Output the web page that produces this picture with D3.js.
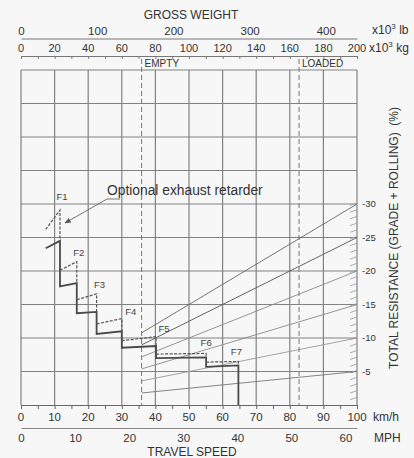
<!DOCTYPE html>
<html>
<meta charset="utf-8" />
<style>
  body { margin: 0; background: #f7f7f7; }
  svg { font-family: "Liberation Sans", Arial, sans-serif; }
</style>
<svg width="414" height="458"></svg>
<script src="https://d3js.org/d3.v7.min.js"></script>
<script>
  // gear ranges (km/h) and retarder curves (% total resistance)
  const gears = ["F1", "F2", "F3", "F4", "F5", "F6", "F7"];
  const shiftSpeeds = [7.35, 11.6, 16.6, 22.5, 30.0, 40.2, 55.1, 64.7];
  const solidStart = [23.4, 17.7, 13.7, 10.6, 8.55, 7.0, 5.7];
  const solidEnd = [24.5, 18.2, 13.9, 11.0, 8.8, 7.1, 5.9];
  const dashStart = [26.2, 20.1, 15.7, 12.1, 9.6, 7.6, 6.4];
  const dashEnd = [29.1, 21.4, 16.6, 12.9, 10.2, 7.7, 6.5];

  const grades = [30, 25, 20, 15, 10, 5];
  const emptyWeight = 71.8; // x10^3 kg
  const loadedWeight = 165.5;

  const kgTicks = d3.range(0, 201, 20);
  const lbTicks = [0, 100, 200, 300, 400];
  const kmhTicks = d3.range(0, 101, 10);
  const mphTicks = [0, 10, 20, 30, 40, 50, 60];
  const resTicks = [5, 10, 15, 20, 25, 30];

  const svg = d3.select("svg");
  const pLeft = 21, pRight = 357, pTop = 70, pBottom = 405;

  const xKmh = d3.scaleLinear().domain([0, 100]).range([pLeft, pRight]);
  const xKg = d3.scaleLinear().domain([0, 200]).range([pLeft, pRight]);
  const yRes = d3.scaleLinear().domain([0, 50]).range([pBottom, pTop]);
  const lbToKg = 0.45359237, mphToKmh = 1.609344;

  const ink = "#333";
  const tickFont = 11.5;

  // grid
  const grid = svg.append("g").attr("stroke", "#828282").attr("stroke-width", 1.2);
  grid.selectAll("line.v").data(kmhTicks).join("line").attr("class", "v")
    .attr("x1", d => xKmh(d)).attr("x2", d => xKmh(d))
    .attr("y1", pTop).attr("y2", pBottom);
  grid.selectAll("line.h").data(d3.range(5, 51, 5)).join("line").attr("class", "h")
    .attr("x1", pLeft).attr("x2", pRight)
    .attr("y1", d => yRes(d)).attr("y2", d => yRes(d));

  // right side hatches
  svg.append("g").attr("stroke", "#9a9a9a").attr("stroke-width", 0.8)
    .selectAll("line").data(d3.range(1, 31)).join("line")
    .attr("x1", pRight - 7).attr("x2", pRight)
    .attr("y1", d => yRes(d) + 1.5).attr("y2", d => yRes(d) - 1);

  // grade lines radiating from origin, drawn from empty weight
  const gradeColors = ["#666", "#555", "#8a8a8a", "#8a8a8a", "#9a9a9a", "#777"];
  svg.append("g").selectAll("line").data(grades).join("line")
    .attr("x1", xKg(emptyWeight)).attr("y1", d => yRes(d * emptyWeight / 200))
    .attr("x2", xKg(200)).attr("y2", d => yRes(d))
    .attr("stroke", (d, i) => gradeColors[i]).attr("stroke-width", 0.9);

  // empty / loaded lines
  svg.append("g").selectAll("line").data([emptyWeight, loadedWeight]).join("line")
    .attr("x1", d => xKg(d)).attr("x2", d => xKg(d))
    .attr("y1", 59).attr("y2", pBottom)
    .attr("stroke", "#777").attr("stroke-width", 1).attr("stroke-dasharray", "5,3");
  svg.append("g").selectAll("text").data([["EMPTY", emptyWeight], ["LOADED", loadedWeight]]).join("text")
    .attr("x", d => xKg(d[1]) + 3).attr("y", 67)
    .attr("font-size", 10).attr("fill", ink).text(d => d[0]);

  // solid retarder curve
  const pts = [[shiftSpeeds[0], solidStart[0]]];
  gears.forEach((g, i) => {
    pts.push([shiftSpeeds[i + 1], solidEnd[i]]);
    pts.push([shiftSpeeds[i + 1], i < gears.length - 1 ? solidStart[i + 1] : 0]);
  });
  const line = d3.line().x(d => xKmh(d[0])).y(d => yRes(d[1]));
  svg.append("path").attr("d", line(pts)).attr("fill", "none")
    .attr("stroke", "#4a4a4a").attr("stroke-width", 1.8);

  // dashed optional exhaust retarder curves
  svg.append("g").selectAll("path").data(gears).join("path")
    .attr("d", (g, i) => line([
      [shiftSpeeds[i], dashStart[i]],
      [shiftSpeeds[i + 1], dashEnd[i]],
      [shiftSpeeds[i + 1], solidEnd[i]]
    ]))
    .attr("fill", "none").attr("stroke", "#555").attr("stroke-width", 1.2)
    .attr("stroke-dasharray", "3,1.5");

  const labelOff = [[2, -10], [2, -6], [3, -6], [9, -4], [8, -5], [0, -7], [-2, -6]];
  svg.append("g").selectAll("text").data(gears).join("text")
    .attr("x", (g, i) => xKmh(shiftSpeeds[i + 1]) + labelOff[i][0])
    .attr("y", (g, i) => yRes(dashEnd[i]) + labelOff[i][1])
    .attr("text-anchor", "middle").attr("font-size", 9.5).attr("fill", "#444")
    .text(d => d);

  // annotation
  svg.append("defs").append("marker").attr("id", "arr")
    .attr("viewBox", "0 0 10 10").attr("refX", 9).attr("refY", 5)
    .attr("markerWidth", 7).attr("markerHeight", 7).attr("orient", "auto")
    .append("path").attr("d", "M0,1L10,5L0,9z").attr("fill", "#555");
  svg.append("polyline").attr("points", "120,199 107,199 65,223")
    .attr("fill", "none").attr("stroke", "#666").attr("stroke-width", 0.9)
    .attr("marker-end", "url(#arr)");
  svg.append("text").attr("x", 107).attr("y", 195).attr("font-size", 13.8)
    .attr("fill", ink).text("Optional exhaust retarder");

  // top axes
  svg.append("text").attr("x", 191).attr("y", 19).attr("text-anchor", "middle")
    .attr("font-size", 12).attr("fill", ink).text("GROSS WEIGHT");

  const lbAxis = d3.axisTop(d3.scaleLinear().domain([0, 200 / lbToKg]).range([pLeft, pRight]))
    .tickValues(lbTicks).tickSize(0).tickPadding(4);
  const gLb = svg.append("g").attr("transform", "translate(0,38.5)").call(lbAxis);
  gLb.select(".domain").attr("stroke", "#777");
  gLb.attr("font-family", null).attr("font-size", null);
  gLb.selectAll("text").attr("font-size", tickFont).attr("fill", ink);

  const kgAxis = d3.axisBottom(xKg).tickValues(d3.range(0, 201, 10)).tickSize(3).tickFormat("");
  const gKg = svg.append("g").attr("transform", "translate(0,56)").call(kgAxis);
  gKg.selectAll("line, path").attr("stroke", "#777");
  svg.append("g").selectAll("text").data(kgTicks).join("text")
    .attr("x", d => xKg(d)).attr("y", 52).attr("text-anchor", "middle")
    .attr("font-size", 11).attr("fill", ink).text(d => d);

  const unitLb = svg.append("text").attr("x", 372).attr("y", 34).attr("font-size", 12).attr("fill", ink);
  unitLb.append("tspan").text("x10");
  unitLb.append("tspan").attr("font-size", 8).attr("dy", -5).text("3");
  unitLb.append("tspan").attr("dy", 5).text(" lb");
  const unitKg = svg.append("text").attr("x", 369).attr("y", 52).attr("font-size", 12).attr("fill", ink);
  unitKg.append("tspan").text("x10");
  unitKg.append("tspan").attr("font-size", 8).attr("dy", -5).text("3");
  unitKg.append("tspan").attr("dy", 5).text(" kg");

  // bottom axes
  const kmhAxis = d3.axisBottom(xKmh).tickValues(d3.range(0, 101, 5)).tickSize(4).tickFormat("");
  const gKmh = svg.append("g").attr("transform", `translate(0,${pBottom})`).call(kmhAxis);
  gKmh.selectAll("line, path").attr("stroke", "#666");
  svg.append("g").selectAll("text").data(kmhTicks).join("text")
    .attr("x", d => xKmh(d)).attr("y", 421).attr("text-anchor", "middle")
    .attr("font-size", tickFont).attr("fill", ink).text(d => d);
  svg.append("text").attr("x", 373).attr("y", 421).attr("font-size", 12).attr("fill", ink).text("km/h");

  const mphAxis = d3.axisBottom(d3.scaleLinear().domain([0, 100 / mphToKmh]).range([pLeft, pRight]))
    .tickValues(mphTicks).tickSize(0).tickPadding(6);
  const gMph = svg.append("g").attr("transform", "translate(0,428)").call(mphAxis);
  gMph.select(".domain").attr("stroke", "#888");
  gMph.attr("font-family", null).attr("font-size", null);
  gMph.selectAll("text").attr("font-size", tickFont).attr("fill", ink);
  svg.append("text").attr("x", 374).attr("y", 442).attr("font-size", 12).attr("fill", ink).text("MPH");
  svg.append("text").attr("x", 192).attr("y", 456).attr("text-anchor", "middle")
    .attr("font-size", 12).attr("fill", ink).text("TRAVEL SPEED");

  // right axis labels
  svg.append("g").selectAll("text").data(resTicks).join("text")
    .attr("x", 362).attr("y", d => yRes(d) + 3)
    .attr("font-size", 9.5).attr("fill", ink).text(d => "-" + d);
  svg.append("text").attr("transform", "translate(398,238) rotate(-90)")
    .attr("text-anchor", "middle").attr("font-size", 12).attr("fill", ink)
    .style("white-space", "pre")
    .text("TOTAL RESISTANCE (GRADE + ROLLING)  (%)");
</script>
</html>
